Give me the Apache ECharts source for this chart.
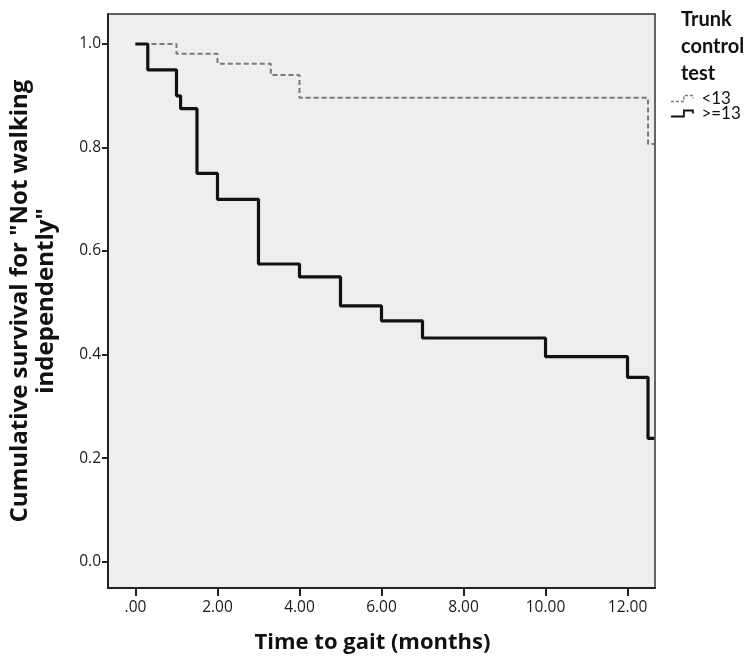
<!DOCTYPE html>
<html>
<head>
<meta charset="utf-8">
<script src="https://cdn.jsdelivr.net/npm/echarts@6/dist/echarts.min.js"></script>
<style>html,body{margin:0;padding:0;background:#fff}#c{width:750px;height:659px}</style>
</head>
<body>
<div id="c"></div>
<script>
// Kaplan-Meier steps (time in months, cumulative survival)
const lowTimes   = [0, 1.0, 2.0, 3.3, 4.0, 12.5, 12.65];
const lowValues  = [1.0, 0.981, 0.962, 0.940, 0.896, 0.807, 0.807];
const highTimes  = [0, 0.3, 1.0, 1.1, 1.5, 2.0, 3.0, 4.0, 5.0, 6.0, 7.0, 10.0, 12.0, 12.5, 12.65];
const highValues = [1.0, 0.95, 0.90, 0.875, 0.75, 0.70, 0.575, 0.55, 0.494, 0.465, 0.432, 0.396, 0.356, 0.238, 0.238];
const xTicks = [0, 2, 4, 6, 8, 10, 12];
const yTicks = [0, 0.2, 0.4, 0.6, 0.8, 1.0];
const seriesNames = ['<13', '>=13'];

const zip = (a, b) => a.map((t, i) => [t, b[i]]);
const FONT = '"Open Sans", "DejaVu Sans", sans-serif';
const NARROW = 'Lato, "Open Sans", sans-serif';
const ICON = 'path://M0,6 L13,6 L13,0 L22,0 L22,3';
const chart = echarts.init(document.getElementById('c'), null, {renderer: 'canvas'});
chart.setOption({
  backgroundColor: '#ffffff',
  animation: false,
  title: {
    text: 'Trunk\ncontrol\ntest',
    left: 676, top: 1,
    textStyle: {fontFamily: NARROW, fontWeight: 'bold', fontSize: 20, lineHeight: 27, color: '#111'}
  },
  legend: {
    orient: 'vertical',
    left: 665, top: 85,
    itemWidth: 25, itemHeight: 6, itemGap: -2,
    textStyle: {fontFamily: NARROW, fontSize: 17, lineHeight: 16, color: '#111', padding: [0, 0, 0, 2]},
    data: [
      {name: seriesNames[0], icon: ICON,
       itemStyle: {color: 'transparent', borderColor: '#777', borderWidth: 1.4, borderType: [3, 2]}},
      {name: seriesNames[1], icon: ICON,
       itemStyle: {color: 'transparent', borderColor: '#111', borderWidth: 1.8}}
    ]
  },
  grid: {
    left: 108, top: 14, right: 95, bottom: 71,
    containLabel: false, outerBoundsMode: 'none',
    show: true, backgroundColor: '#eeeeee', borderColor: '#333', borderWidth: 1.5
  },
  xAxis: {
    type: 'value', min: -0.67, max: 12.67,
    name: 'Time to gait (months)', nameLocation: 'middle', nameGap: 44,
    nameTextStyle: {fontFamily: FONT, fontWeight: 'bold', fontSize: 22, color: '#111', padding: [0, 18, 0, 0]},
    axisLine: {show: true, onZero: false, lineStyle: {color: '#222', width: 2}},
    axisTick: {show: true, customValues: xTicks, length: 8, lineStyle: {color: '#222', width: 2}},
    axisLabel: {customValues: xTicks, margin: 12, fontFamily: FONT, fontSize: 15.5, color: '#1a1a1a',
      formatter: v => v === 0 ? '.00' : v.toFixed(2)},
    splitLine: {show: false}
  },
  yAxis: {
    type: 'value', min: -0.051, max: 1.058,
    name: 'Cumulative survival for "Not walking\nindependently"', nameLocation: 'middle', nameGap: 49,
    nameTextStyle: {fontFamily: FONT, fontWeight: 'bold', fontSize: 24, lineHeight: 26, color: '#111'},
    axisLine: {show: true, onZero: false, lineStyle: {color: '#222', width: 2}},
    axisTick: {show: true, customValues: yTicks, length: 6, lineStyle: {color: '#222', width: 2}},
    axisLabel: {customValues: yTicks, margin: 7, fontFamily: FONT, fontSize: 15.5, color: '#1a1a1a',
      formatter: v => v.toFixed(1)},
    splitLine: {show: false}
  },
  series: [
    {name: seriesNames[0], type: 'line', step: 'end', symbol: 'none',
     data: zip(lowTimes, lowValues),
     lineStyle: {color: '#7a7a7a', width: 2, type: [5, 3]}, itemStyle: {color: '#7a7a7a'}},
    {name: seriesNames[1], type: 'line', step: 'end', symbol: 'none',
     data: zip(highTimes, highValues),
     lineStyle: {color: '#111', width: 3.2}, itemStyle: {color: '#111'}}
  ]
});
</script>
</body>
</html>
